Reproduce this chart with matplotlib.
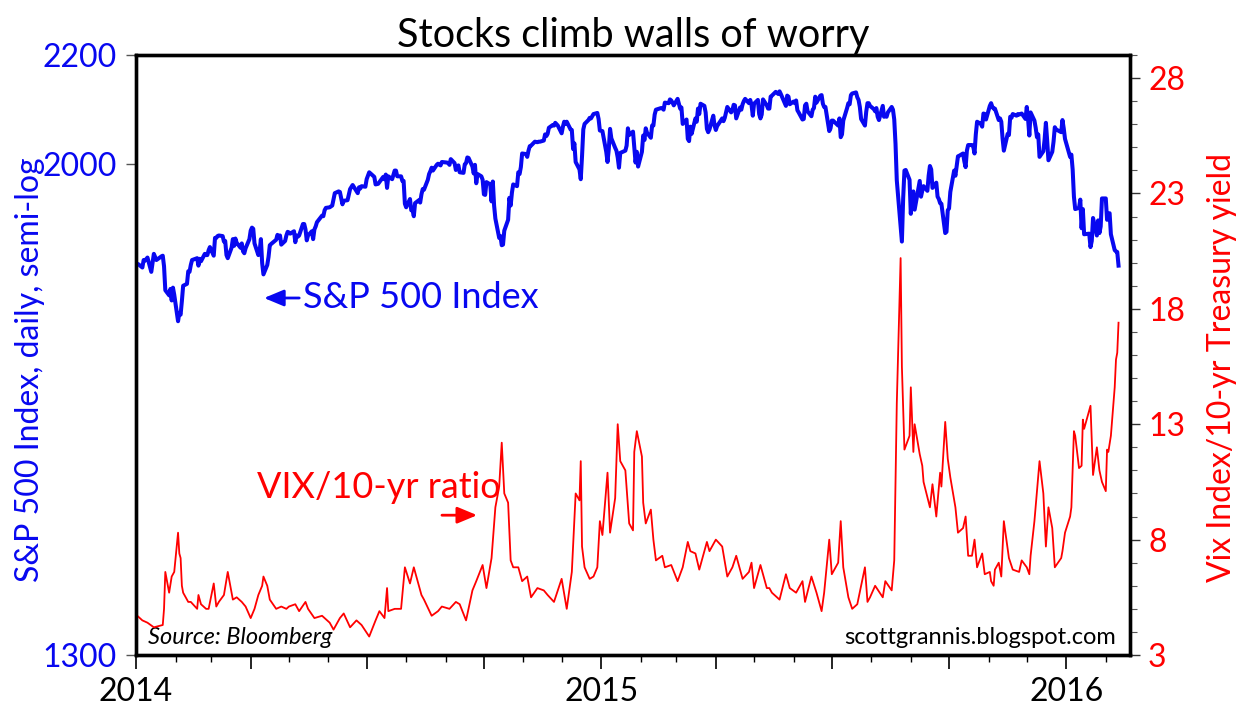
import matplotlib
matplotlib.use("Agg")
import matplotlib.pyplot as plt
import matplotlib.dates as mdates
from matplotlib.ticker import NullLocator, FixedLocator, FuncFormatter, MultipleLocator
import pandas as pd

plt.rcParams['font.family'] = ['Lato', 'DejaVu Sans']

BLUE = '#0808f0'
RED = '#ff0000'

# S&P 500 daily close
spx_dates = [
    '2014-01-02','2014-01-03','2014-01-06','2014-01-07','2014-01-08','2014-01-10','2014-01-13','2014-01-15','2014-01-17','2014-01-21','2014-01-22','2014-01-23','2014-01-24','2014-01-27','2014-01-28','2014-01-29','2014-01-30','2014-01-31',
    '2014-02-03','2014-02-04','2014-02-05','2014-02-06','2014-02-07','2014-02-10','2014-02-11','2014-02-12','2014-02-13','2014-02-14','2014-02-18','2014-02-19','2014-02-20','2014-02-21','2014-02-24','2014-02-25','2014-02-26','2014-02-27','2014-02-28',
    '2014-03-03','2014-03-04','2014-03-05','2014-03-06','2014-03-07','2014-03-10','2014-03-11','2014-03-12','2014-03-13','2014-03-14','2014-03-17','2014-03-18','2014-03-19','2014-03-20','2014-03-21','2014-03-24','2014-03-25','2014-03-26','2014-03-27','2014-03-28','2014-03-31',
    '2014-04-01','2014-04-02','2014-04-03','2014-04-04','2014-04-07','2014-04-08','2014-04-09','2014-04-10','2014-04-11','2014-04-14','2014-04-15','2014-04-16','2014-04-17','2014-04-21','2014-04-22','2014-04-23','2014-04-24','2014-04-25','2014-04-28','2014-04-29','2014-04-30',
    '2014-05-01','2014-05-02','2014-05-05','2014-05-06','2014-05-07','2014-05-08','2014-05-09','2014-05-12','2014-05-13','2014-05-14','2014-05-15','2014-05-16','2014-05-19','2014-05-20','2014-05-21','2014-05-22','2014-05-23','2014-05-27','2014-05-28','2014-05-29','2014-05-30',
    '2014-06-02','2014-06-04','2014-06-06','2014-06-09','2014-06-10','2014-06-12','2014-06-13','2014-06-16','2014-06-18','2014-06-20','2014-06-24','2014-06-25','2014-06-26','2014-06-27','2014-06-30',
    '2014-07-01','2014-07-03','2014-07-07','2014-07-08','2014-07-10','2014-07-11','2014-07-14','2014-07-15','2014-07-16','2014-07-17','2014-07-18','2014-07-21','2014-07-23','2014-07-24','2014-07-25','2014-07-28','2014-07-29','2014-07-30','2014-07-31',
    '2014-08-01','2014-08-04','2014-08-05','2014-08-06','2014-08-07','2014-08-08','2014-08-11','2014-08-12','2014-08-13','2014-08-14','2014-08-15','2014-08-18','2014-08-19','2014-08-20','2014-08-21','2014-08-22','2014-08-25','2014-08-26','2014-08-28','2014-08-29',
    '2014-09-02','2014-09-03','2014-09-04','2014-09-05','2014-09-08','2014-09-09','2014-09-10','2014-09-11','2014-09-12','2014-09-15','2014-09-16','2014-09-17','2014-09-18','2014-09-19','2014-09-22','2014-09-23','2014-09-24','2014-09-25','2014-09-26','2014-09-29','2014-09-30',
    '2014-10-01','2014-10-02','2014-10-03','2014-10-06','2014-10-07','2014-10-08','2014-10-09','2014-10-10','2014-10-13','2014-10-14','2014-10-15','2014-10-16','2014-10-17','2014-10-20','2014-10-21','2014-10-22','2014-10-23','2014-10-24','2014-10-27','2014-10-28','2014-10-29','2014-10-30','2014-10-31',
    '2014-11-03','2014-11-04','2014-11-05','2014-11-06','2014-11-07','2014-11-10','2014-11-12','2014-11-13','2014-11-14','2014-11-17','2014-11-18','2014-11-19','2014-11-20','2014-11-21','2014-11-24','2014-11-25','2014-11-26','2014-11-28',
    '2014-12-01','2014-12-02','2014-12-03','2014-12-04','2014-12-05','2014-12-08','2014-12-09','2014-12-10','2014-12-11','2014-12-12','2014-12-15','2014-12-16','2014-12-17','2014-12-18','2014-12-19','2014-12-22','2014-12-23','2014-12-24','2014-12-26','2014-12-29','2014-12-30','2014-12-31',
    '2015-01-02','2015-01-05','2015-01-06','2015-01-07','2015-01-08','2015-01-09','2015-01-12','2015-01-13','2015-01-14','2015-01-15','2015-01-16','2015-01-20','2015-01-21','2015-01-22','2015-01-23','2015-01-26','2015-01-27','2015-01-28','2015-01-29','2015-01-30',
    '2015-02-02','2015-02-03','2015-02-04','2015-02-05','2015-02-06','2015-02-09','2015-02-10','2015-02-11','2015-02-12','2015-02-13','2015-02-17','2015-02-18','2015-02-19','2015-02-20','2015-02-23','2015-02-24','2015-02-25','2015-02-26','2015-02-27',
    '2015-03-02','2015-03-03','2015-03-04','2015-03-05','2015-03-06','2015-03-09','2015-03-10','2015-03-11','2015-03-12','2015-03-13','2015-03-16','2015-03-17','2015-03-18','2015-03-19','2015-03-20','2015-03-23','2015-03-24','2015-03-25','2015-03-26','2015-03-27','2015-03-30','2015-03-31',
    '2015-04-01','2015-04-02','2015-04-06','2015-04-07','2015-04-08','2015-04-09','2015-04-10','2015-04-13','2015-04-14','2015-04-15','2015-04-16','2015-04-17','2015-04-20','2015-04-21','2015-04-22','2015-04-23','2015-04-24','2015-04-27','2015-04-28','2015-04-29','2015-04-30',
    '2015-05-01','2015-05-04','2015-05-05','2015-05-06','2015-05-07','2015-05-08','2015-05-11','2015-05-12','2015-05-13','2015-05-14','2015-05-15','2015-05-18','2015-05-19','2015-05-20','2015-05-21','2015-05-22','2015-05-26','2015-05-27','2015-05-28','2015-05-29',
    '2015-06-01','2015-06-02','2015-06-03','2015-06-04','2015-06-05','2015-06-08','2015-06-09','2015-06-10','2015-06-11','2015-06-12','2015-06-15','2015-06-16','2015-06-17','2015-06-18','2015-06-19','2015-06-22','2015-06-23','2015-06-24','2015-06-25','2015-06-26','2015-06-29','2015-06-30',
    '2015-07-01','2015-07-02','2015-07-06','2015-07-07','2015-07-08','2015-07-09','2015-07-10','2015-07-13','2015-07-14','2015-07-15','2015-07-16','2015-07-17','2015-07-20','2015-07-21','2015-07-22','2015-07-23','2015-07-24','2015-07-27','2015-07-28','2015-07-29','2015-07-30','2015-07-31',
    '2015-08-03','2015-08-04','2015-08-05','2015-08-06','2015-08-07','2015-08-10','2015-08-11','2015-08-12','2015-08-13','2015-08-14','2015-08-17','2015-08-18','2015-08-19','2015-08-20','2015-08-21','2015-08-24','2015-08-25','2015-08-26','2015-08-27','2015-08-28','2015-08-31',
    '2015-09-01','2015-09-02','2015-09-03','2015-09-04','2015-09-08','2015-09-09','2015-09-10','2015-09-11','2015-09-14','2015-09-15','2015-09-16','2015-09-17','2015-09-18','2015-09-21','2015-09-22','2015-09-23','2015-09-24','2015-09-25','2015-09-28','2015-09-29','2015-09-30',
    '2015-10-01','2015-10-02','2015-10-05','2015-10-06','2015-10-07','2015-10-08','2015-10-09','2015-10-12','2015-10-13','2015-10-14','2015-10-15','2015-10-16','2015-10-19','2015-10-20','2015-10-21','2015-10-22','2015-10-23','2015-10-26','2015-10-27','2015-10-28','2015-10-29','2015-10-30',
    '2015-11-02','2015-11-03','2015-11-04','2015-11-05','2015-11-06','2015-11-09','2015-11-10','2015-11-11','2015-11-12','2015-11-13','2015-11-16','2015-11-17','2015-11-18','2015-11-19','2015-11-20','2015-11-23','2015-11-24','2015-11-25','2015-11-27','2015-11-30',
    '2015-12-01','2015-12-02','2015-12-03','2015-12-04','2015-12-07','2015-12-08','2015-12-09','2015-12-10','2015-12-11','2015-12-14','2015-12-15','2015-12-16','2015-12-17','2015-12-18','2015-12-21','2015-12-22','2015-12-23','2015-12-24','2015-12-28','2015-12-29','2015-12-30','2015-12-31',
    '2016-01-04','2016-01-05','2016-01-06','2016-01-07','2016-01-08','2016-01-11','2016-01-12','2016-01-13','2016-01-14','2016-01-15','2016-01-19','2016-01-20','2016-01-21','2016-01-22','2016-01-25','2016-01-26','2016-01-27','2016-01-28','2016-01-29',
    '2016-02-01','2016-02-02','2016-02-03','2016-02-04','2016-02-05','2016-02-08','2016-02-09','2016-02-10','2016-02-11',
]
spx_close = [
    1832,1831,1826,1838,1837,1842,1819,1848,1838,1844,1845,1828,1790,1782,1792,1774,1794,1783,
    1742,1755,1752,1773,1797,1800,1820,1819,1830,1838,1841,1829,1840,1836,1848,1846,1846,1854,1859,
    1845,1874,1874,1877,1878,1877,1868,1869,1846,1841,1858,1872,1861,1873,1866,1858,1865,1852,1849,1857,1872,
    1886,1891,1889,1865,1846,1852,1872,1833,1815,1830,1843,1862,1864,1871,1879,1875,1878,1863,1869,1878,1884,
    1883,1881,1885,1867,1878,1876,1878,1897,1897,1888,1870,1878,1885,1872,1888,1893,1900,1911,1910,1920,1924,
    1925,1928,1949,1952,1951,1930,1936,1937,1956,1963,1949,1959,1957,1961,1960,
    1973,1985,1977,1964,1965,1968,1977,1973,1981,1958,1978,1973,1988,1988,1978,1978,1970,1970,1931,
    1925,1939,1920,1920,1910,1932,1937,1933,1947,1956,1955,1972,1982,1987,1993,1988,1998,2000,1997,2003,
    2002,2001,1998,2008,2001,1989,1995,1997,1985,1984,1999,2001,2011,2010,1995,1983,1998,1966,1982,1978,1972,
    1947,1946,1968,1964,1935,1969,1928,1906,1874,1877,1862,1863,1886,1904,1941,1928,1950,1964,1961,1985,1982,1994,2018,
    2017,2012,2023,2031,2032,2039,2038,2039,2039,2041,2052,2049,2053,2064,2069,2068,2073,2068,
    2054,2066,2075,2071,2075,2061,2060,2026,2036,2003,1990,1973,2013,2061,2071,2078,2082,2081,2089,2091,2080,2059,
    2058,2021,2003,2026,2062,2045,2028,2023,2011,1993,2019,2023,2032,2063,2051,2057,2029,2002,2021,1995,
    2021,2050,2042,2063,2055,2046,2068,2068,2088,2097,2100,2100,2097,2110,2109,2116,2114,2110,2105,
    2117,2108,2099,2101,2071,2079,2044,2040,2066,2053,2081,2075,2099,2089,2108,2104,2092,2062,2056,2061,2086,2068,
    2060,2067,2081,2076,2082,2092,2102,2092,2096,2106,2105,2081,2101,2097,2107,2113,2117,2109,2115,2106,2086,
    2108,2115,2089,2081,2088,2116,2105,2099,2099,2121,2123,2130,2128,2126,2131,2126,2104,2123,2121,2107,
    2112,2109,2114,2096,2092,2079,2080,2105,2108,2094,2085,2097,2100,2121,2110,2123,2124,2108,2102,2102,2058,2063,
    2077,2077,2068,2081,2047,2052,2077,2100,2109,2107,2124,2127,2129,2120,2115,2102,2080,2068,2093,2109,2109,2104,
    2098,2094,2100,2084,2078,2104,2084,2086,2084,2092,2102,2097,2079,2035,1971,1893,1868,1940,1988,1989,1972,
    1914,1949,1952,1921,1970,1943,1953,1961,1953,1979,1996,1990,1958,1967,1943,1939,1932,1931,1882,1884,1920,
    1923,1951,1988,1979,1996,2013,2014,2018,2004,1994,2023,2033,2033,2030,2018,2052,2075,2071,2066,2090,2089,2079,
    2104,2109,2102,2099,2099,2078,2081,2075,2045,2023,2053,2051,2084,2082,2089,2086,2089,2088,2090,2080,
    2102,2080,2050,2092,2077,2064,2047,2052,2012,2022,2043,2073,2041,2006,2021,2039,2065,2061,2056,2078,2063,2044,
    2012,2016,1990,1943,1922,1924,1938,1890,1922,1880,1881,1859,1869,1907,1878,1903,1882,1893,1940,
    1940,1904,1913,1915,1880,1854,1852,1851,1829,
]

# VIX index / 10-yr Treasury yield
vix_dates = [
    '2014-01-02','2014-01-06','2014-01-10','2014-01-15','2014-01-22','2014-01-23','2014-01-24','2014-01-27','2014-01-29','2014-01-31',
    '2014-02-03','2014-02-04','2014-02-05','2014-02-06','2014-02-07','2014-02-11','2014-02-13','2014-02-18','2014-02-19','2014-02-21','2014-02-25','2014-02-27',
    '2014-03-03','2014-03-05','2014-03-07','2014-03-11','2014-03-14','2014-03-18','2014-03-21','2014-03-25','2014-03-28',
    '2014-04-01','2014-04-04','2014-04-07','2014-04-10','2014-04-11','2014-04-14','2014-04-16','2014-04-21','2014-04-25','2014-04-29',
    '2014-05-01','2014-05-06','2014-05-09','2014-05-14','2014-05-16','2014-05-21','2014-05-27',
    '2014-06-02','2014-06-05','2014-06-10','2014-06-13','2014-06-18','2014-06-23','2014-06-27',
    '2014-07-03','2014-07-08','2014-07-11','2014-07-15','2014-07-17','2014-07-18','2014-07-23','2014-07-28','2014-07-31',
    '2014-08-04','2014-08-07','2014-08-11','2014-08-13','2014-08-15','2014-08-21','2014-08-26','2014-08-29',
    '2014-09-04','2014-09-09','2014-09-12','2014-09-17','2014-09-22','2014-09-25','2014-09-30',
    '2014-10-03','2014-10-07','2014-10-10','2014-10-13','2014-10-15','2014-10-17','2014-10-20','2014-10-22','2014-10-24','2014-10-28','2014-10-31',
    '2014-11-04','2014-11-07','2014-11-12','2014-11-17','2014-11-20','2014-11-25','2014-11-28',
    '2014-12-01','2014-12-05','2014-12-09','2014-12-12','2014-12-15','2014-12-16','2014-12-17','2014-12-19','2014-12-23','2014-12-26','2014-12-29','2014-12-31',
    '2015-01-02','2015-01-06','2015-01-08','2015-01-12','2015-01-14','2015-01-16','2015-01-20','2015-01-23','2015-01-26','2015-01-27','2015-01-29',
    '2015-02-02','2015-02-03','2015-02-05','2015-02-09','2015-02-11','2015-02-13','2015-02-18','2015-02-20','2015-02-25',
    '2015-03-02','2015-03-06','2015-03-10','2015-03-12','2015-03-16','2015-03-19','2015-03-25','2015-03-27',
    '2015-04-01','2015-04-06','2015-04-10','2015-04-14','2015-04-17','2015-04-22','2015-04-27','2015-04-29',
    '2015-05-01','2015-05-06','2015-05-11','2015-05-13','2015-05-15','2015-05-21','2015-05-26','2015-05-29',
    '2015-06-03','2015-06-08','2015-06-10','2015-06-15','2015-06-19','2015-06-23','2015-06-25','2015-06-29',
    '2015-07-01','2015-07-06','2015-07-08','2015-07-10','2015-07-14','2015-07-17','2015-07-21','2015-07-27','2015-07-29','2015-07-31',
    '2015-08-04','2015-08-10','2015-08-12','2015-08-17','2015-08-19','2015-08-21','2015-08-24','2015-08-25','2015-08-27','2015-08-31',
    '2015-09-01','2015-09-03','2015-09-04','2015-09-08','2015-09-10','2015-09-11','2015-09-16','2015-09-18','2015-09-21','2015-09-24','2015-09-25','2015-09-28','2015-09-30',
    '2015-10-02','2015-10-06','2015-10-08','2015-10-12','2015-10-14','2015-10-16','2015-10-19','2015-10-21','2015-10-23','2015-10-27','2015-10-29',
    '2015-11-02','2015-11-03','2015-11-05','2015-11-06','2015-11-09','2015-11-11','2015-11-13','2015-11-17','2015-11-20','2015-11-25','2015-11-27',
    '2015-12-01','2015-12-03','2015-12-04','2015-12-07','2015-12-11','2015-12-14','2015-12-16','2015-12-18','2015-12-21','2015-12-23','2015-12-28','2015-12-29','2015-12-31',
    '2016-01-04','2016-01-05','2016-01-07','2016-01-08','2016-01-11','2016-01-13','2016-01-14','2016-01-15','2016-01-20','2016-01-22','2016-01-25','2016-01-27','2016-01-29',
    '2016-02-01','2016-02-02','2016-02-03','2016-02-05','2016-02-08','2016-02-09','2016-02-10','2016-02-11',
]
vix_ratio = [
    4.7,4.5,4.4,4.2,4.3,5.0,6.6,5.7,6.4,6.6,
    8.3,7.4,7.2,6.0,5.7,5.3,5.3,5.0,5.6,5.2,5.0,5.0,
    6.1,5.1,5.3,5.6,6.6,5.4,5.5,5.3,5.1,
    4.6,5.0,5.6,6.0,6.4,6.0,5.4,5.0,5.1,5.0,
    5.1,5.2,4.9,5.3,5.0,4.6,4.7,
    4.4,4.1,4.6,4.8,4.2,4.5,4.3,
    3.8,4.5,4.9,4.6,5.9,4.9,5.0,5.0,6.8,
    6.1,6.8,6.0,5.6,5.4,4.7,4.9,5.1,
    5.0,5.3,5.2,4.5,5.8,6.2,6.9,
    5.9,7.2,9.4,10.3,12.2,10.0,9.6,7.1,6.8,6.8,6.2,
    6.4,5.5,5.9,5.8,5.6,5.3,5.8,
    6.3,5.0,6.6,10.0,9.7,11.4,7.7,6.8,6.3,6.4,6.8,8.8,
    8.2,10.9,8.3,9.8,13.0,11.4,11.0,8.7,8.4,11.8,12.7,
    11.6,9.6,8.7,9.3,8.0,7.1,7.3,6.8,6.9,
    6.2,6.8,7.9,7.5,7.4,6.7,7.9,7.5,
    8.0,7.7,6.4,6.8,7.3,6.3,6.6,7.0,
    5.9,6.9,5.9,5.9,5.7,5.4,6.5,5.9,
    5.7,6.2,5.3,6.4,5.7,4.9,5.7,8.0,
    6.5,7.0,8.8,6.8,5.5,5.0,5.2,6.8,5.3,5.5,
    6.0,5.5,6.2,5.8,7.1,13.9,20.2,15.5,11.9,12.5,
    14.6,11.8,13.0,11.7,11.2,10.5,9.4,10.4,9.0,10.9,10.3,13.1,11.5,
    10.7,9.4,8.3,8.5,9.0,7.3,7.3,8.0,6.8,7.4,6.5,
    6.6,6.2,6.0,6.7,7.0,6.4,8.8,7.2,6.7,6.6,7.1,
    6.8,6.5,7.3,8.8,11.4,10.0,7.7,9.4,8.5,6.8,7.2,7.5,8.3,
    9.0,9.4,12.7,12.5,11.1,11.2,13.2,12.8,13.8,10.8,12.0,11.0,10.5,
    10.1,11.9,11.8,12.5,14.6,15.8,16.1,17.4,
]

assert len(spx_dates) == len(spx_close)
assert len(vix_dates) == len(vix_ratio)

spx_dt = pd.to_datetime(spx_dates)
vix_dt = pd.to_datetime(vix_dates)

left_ticks = [1300, 2000, 2200]
right_ticks = [3, 8, 13, 18, 23, 28]

fig = plt.figure(figsize=(12.46, 7.18), dpi=100)
ax = fig.add_axes([136 / 1246, 1 - 655 / 718, 994 / 1246, 600 / 718])

ax.plot(spx_dt, spx_close, color=BLUE, lw=2.9, solid_joinstyle='round', zorder=3)
ax.set_yscale('log')
ax.set_ylim(1300, 2200)
ax.yaxis.set_major_locator(FixedLocator(left_ticks))
ax.yaxis.set_major_formatter(FuncFormatter(lambda v, p: f'{v:.0f}'))
ax.yaxis.set_minor_locator(NullLocator())
ax.tick_params(axis='y', which='major', direction='out', length=7, width=1.0,
               color='#555555', labelcolor=BLUE, labelsize=23, pad=7)

ax.set_xlim(pd.Timestamp('2014-01-01'), pd.Timestamp('2016-02-20'))
ax.xaxis.set_major_locator(mdates.MonthLocator(bymonth=[1, 4, 7, 10]))
ax.xaxis.set_minor_locator(mdates.MonthLocator())
ax.xaxis.set_major_formatter(FuncFormatter(
    lambda v, p: mdates.num2date(v).strftime('%Y') if mdates.num2date(v).month == 1 else ''))
ax.tick_params(axis='x', which='major', direction='out', length=10, width=1.2,
               color='black', labelsize=23, pad=6)
ax.tick_params(axis='x', which='minor', direction='out', length=5, width=1.0, color='black')

ax2 = ax.twinx()
ax2.plot(vix_dt, vix_ratio, color=RED, lw=1.3, zorder=2)
ax2.set_ylim(3, 29)
ax2.yaxis.set_major_locator(FixedLocator(right_ticks))
ax2.yaxis.set_minor_locator(MultipleLocator(1))
ax2.tick_params(axis='y', which='major', direction='out', length=7, width=1.0,
                color='#333333', labelcolor=RED, labelsize=23, pad=6)
ax2.tick_params(axis='y', which='minor', direction='out', length=5, width=0.8, color='#555555')

for a in (ax, ax2):
    for s in a.spines.values():
        s.set_linewidth(2.4)
        s.set_color('black')

ax.set_title('Stocks climb walls of worry', fontsize=28.5, pad=6)

fig.text(30 / 1246, 1 - 370 / 718, 'S&P 500 Index, daily, semi-log', rotation=90,
         color=BLUE, fontsize=23, ha='center', va='center')
fig.text(1222 / 1246, 1 - 367 / 718, 'Vix Index/10-yr Treasury yield', rotation=90,
         color=RED, fontsize=23, ha='center', va='center')

# annotations
ax.text(0.168, 0.595, 'S&P 500 Index', transform=ax.transAxes, color=BLUE,
        fontsize=26, ha='left', va='center')
ax.annotate('', xy=(0.126, 0.595), xytext=(0.167, 0.595), xycoords='axes fraction',
            arrowprops=dict(arrowstyle='-|>,head_length=1.2,head_width=0.5',
                            color=BLUE, lw=2))
ax.text(0.122, 0.28, 'VIX/10-yr ratio', transform=ax.transAxes, color=RED,
        fontsize=26, ha='left', va='center')
ax.annotate('', xy=(0.346, 0.233), xytext=(0.305, 0.233), xycoords='axes fraction',
            arrowprops=dict(arrowstyle='-|>,head_length=1.2,head_width=0.5',
                            color=RED, lw=2))

ax.text(0.012, 0.03, 'Source: Bloomberg', transform=ax.transAxes, fontsize=17,
        style='italic', ha='left', va='center')
ax.text(0.986, 0.03, 'scottgrannis.blogspot.com', transform=ax.transAxes, fontsize=17,
        ha='right', va='center')

fig.savefig('out.png', dpi=100, facecolor='white')
